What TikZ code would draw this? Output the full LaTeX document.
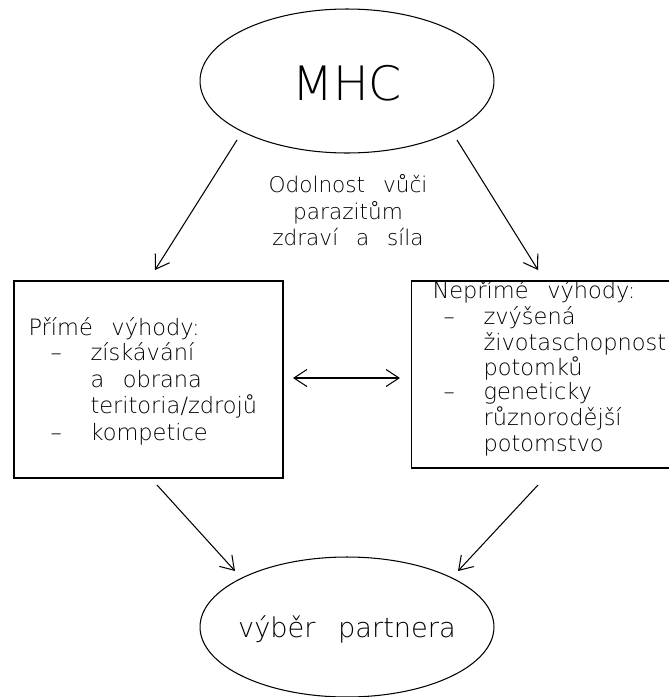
\documentclass[tikz,border=0pt]{standalone}
\usepackage{fontspec}
\setmainfont{DejaVu Sans ExtraLight}[WordSpace=2.6]
\usetikzlibrary{arrows.meta,shapes.geometric}

\begin{document}
\begin{tikzpicture}[x = 0.02cm, y = -0.02cm, line width = 0.6pt,
                    oval/.style = {ellipse, draw, inner sep = 0pt},
                    box/.style = {rectangle, draw, inner sep = 0pt},
                    txt/.style = {anchor = base west, inner sep = 0pt, font = \fontsize{12.8}{16}\selectfont},
                    vee/.style = {-{Straight Barb[length = 2.6mm, width = 3.4mm]}}]
  \useasboundingbox (0,0) rectangle (669,697);
  \node [oval, minimum width = 5.88cm, minimum height = 2.88cm] (MHC) at (347,81) {};
  \node [anchor = base, inner sep = 0pt, font = \fontsize{27}{30}\selectfont] (MHCt) at (347,100) {MHC};
  \node [oval, minimum width = 5.88cm, minimum height = 2.8cm] (VP) at (347,627) {};
  \node [anchor = base, inner sep = 0pt, font = \fontsize{15.5}{18}\selectfont] (VPt) at (347,637) {výběr partnera};
  \node [box, minimum width = 5.38cm, minimum height = 3.94cm] (L) at (148.5,379.5) {};
  \node [box, minimum width = 5.3cm, minimum height = 3.74cm] (R) at (543.5,374.5) {};

  \node [anchor = base, inner sep = 0pt, font = \fontsize{12.3}{15}\selectfont] (O1) at (348,192) {Odolnost vůči};
  \node [anchor = base, inner sep = 0pt, font = \fontsize{12.3}{15}\selectfont] (O2) at (348,219) {parazitům};
  \node [anchor = base, inner sep = 0pt, font = \fontsize{12.3}{15}\selectfont] (O3) at (348,245) {zdraví a síla};

  \node [txt] (L0) at (28,335) {Přímé výhody:};
  \node [txt] (L1d) at (50,360) {–};
  \node [txt] (L1) at (90,360) {získávání};
  \node [txt] (L2) at (90,387) {a obrana};
  \node [txt] (L3) at (90,413) {teritoria/zdrojů};
  \node [txt] (L4d) at (50,440) {–};
  \node [txt] (L4) at (90,440) {kompetice};

  \node [txt] (R0) at (432,298) {Nepřímé výhody:};
  \node [txt] (R1d) at (443,324) {–};
  \node [txt] (R1) at (483,324) {zvýšená};
  \node [txt] (R2) at (483,350) {životaschopnost};
  \node [txt] (R3) at (483,375) {potomků};
  \node [txt] (R4d) at (443,399) {–};
  \node [txt] (R4) at (483,399) {geneticky};
  \node [txt] (R5) at (483,425) {různorodější};
  \node [txt] (R6) at (483,451) {potomstvo};

  \coordinate (a1) at (237,140);
  \coordinate (a2) at (155,270);
  \coordinate (b1) at (457,140);
  \coordinate (b2) at (538,270);
  \coordinate (c1) at (157,485);
  \coordinate (c2) at (235,571);
  \coordinate (d1) at (538,485);
  \coordinate (d2) at (458,571);
  \coordinate (e1) at (293,378);
  \coordinate (e2) at (400,378);
  \draw [vee] (a1) -- (a2);
  \draw [vee] (b1) -- (b2);
  \draw [vee] (c1) -- (c2);
  \draw [vee] (d1) -- (d2);
  \draw [{Straight Barb[length = 2.6mm, width = 3.4mm]}-{Straight Barb[length = 2.6mm, width = 3.4mm]}] (e1) -- (e2);
\end{tikzpicture}
\end{document}
